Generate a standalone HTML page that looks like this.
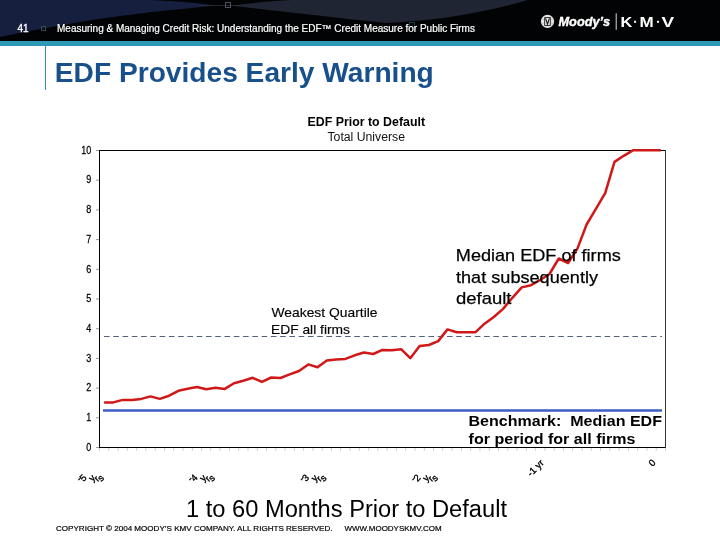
<!DOCTYPE html>
<html><head><meta charset="utf-8">
<style>
html,body{margin:0;padding:0;background:#fff;}
body{width:720px;height:540px;overflow:hidden;position:relative;font-family:"Liberation Sans",sans-serif;}
svg{position:absolute;left:0;top:0;display:block;will-change:transform;}
text{font-family:"Liberation Sans",sans-serif;}
</style></head>
<body>
<svg width="720" height="540" viewBox="0 0 720 540">
  <!-- header background -->
  <rect x="0" y="0" width="720" height="41" fill="#020305"/>
  <path d="M0,0 L150,0 C170,0.5 192,2.5 214,5.2 L214,5.8 C192,8 160,11 120,16 C80,21 40,29 0,37 Z" fill="#161f3e"/>
  <path d="M234,5.3 C248,3.5 268,1 292,0 L528,0 C480,14 430,21 385,23 C330,17 275,10.5 234,6 Z" fill="#1f2532"/>
  <line x1="200" y1="5.5" x2="240" y2="5.5" stroke="#2e3038" stroke-width="0.8"/>
  <rect x="225.5" y="2.5" width="5" height="5" fill="none" stroke="#4a5260" stroke-width="1"/>
  <rect x="409.5" y="22.5" width="5" height="5" fill="none" stroke="#1c3440" stroke-width="1"/>
  <rect x="41.5" y="26.5" width="4" height="4" fill="none" stroke="#3a4a50" stroke-width="1"/>
  <rect x="0" y="41" width="720" height="5" fill="#2f9ab8"/>
  <!-- header text -->
  <text x="17.5" y="31.5" fill="#fff" stroke="#fff" stroke-width="0.3" font-size="10">41</text>
  <text x="57" y="31.5" fill="#fff" stroke="#fff" stroke-width="0.2" font-size="10">Measuring &amp; Managing Credit Risk: Understanding the EDF™ Credit Measure for Public Firms</text>
  <!-- logo -->
  <circle cx="547.5" cy="21.4" r="6.6" fill="#e4e4e4"/>
  <line x1="542" y1="19.5" x2="553" y2="19.5" stroke="#c0c0c0" stroke-width="0.6"/>
  <line x1="542" y1="23.5" x2="553" y2="23.5" stroke="#c0c0c0" stroke-width="0.6"/>
  <rect x="544.7" y="17.6" width="5.6" height="7.8" fill="#f0f0f0" stroke="#1a1a1a" stroke-width="0.9"/>
  <path d="M545.6,18.4 L547.5,24.2 L549.4,18.4" fill="none" stroke="#111" stroke-width="1.1"/>
  <text x="558.5" y="26" fill="#fff" stroke="#fff" stroke-width="0.4" font-size="13" font-weight="bold" font-style="italic" textLength="51.5" lengthAdjust="spacingAndGlyphs">Moody’s</text>
  <rect x="615.7" y="13.3" width="1" height="16.5" fill="#d8d8d8"/>
  <g fill="#fff" font-size="14" font-weight="bold">
    <text x="620.6" y="26.9" textLength="11.8" lengthAdjust="spacingAndGlyphs">K</text>
    <text x="639.6" y="26.9" textLength="14.2" lengthAdjust="spacingAndGlyphs">M</text>
    <text x="661.6" y="26.9" textLength="12.6" lengthAdjust="spacingAndGlyphs">V</text>
  </g>
  <rect x="634.1" y="20.8" width="2" height="2" fill="#fff"/>
  <rect x="657" y="20.8" width="2" height="2" fill="#fff"/>

  <!-- title -->
  <rect x="45" y="46" width="1" height="44" fill="#2f8fb0"/>
  <text x="54.8" y="82" fill="#17508a" font-size="28.5" font-weight="bold" textLength="379" lengthAdjust="spacingAndGlyphs">EDF Provides Early Warning</text>

  <!-- chart title -->
  <text x="307.5" y="126" fill="#000" font-size="12.3" font-weight="bold" textLength="117.5" lengthAdjust="spacingAndGlyphs">EDF Prior to Default</text>
  <text x="327.5" y="140.5" fill="#111" font-size="12" textLength="77.5" lengthAdjust="spacingAndGlyphs">Total Universe</text>

  <!-- plot area -->
  <g stroke="#999" stroke-width="1"><line x1="96" y1="150.5" x2="99" y2="150.5"/><line x1="96" y1="180.2" x2="99" y2="180.2"/><line x1="96" y1="209.9" x2="99" y2="209.9"/><line x1="96" y1="239.6" x2="99" y2="239.6"/><line x1="96" y1="269.3" x2="99" y2="269.3"/><line x1="96" y1="299.0" x2="99" y2="299.0"/><line x1="96" y1="328.7" x2="99" y2="328.7"/><line x1="96" y1="358.4" x2="99" y2="358.4"/><line x1="96" y1="388.1" x2="99" y2="388.1"/><line x1="96" y1="417.8" x2="99" y2="417.8"/><line x1="96" y1="447.5" x2="99" y2="447.5"/></g>
  <g stroke="#d0d0d0" stroke-width="1"><line x1="99.5" y1="448" x2="99.5" y2="451"/><line x1="108.8" y1="448" x2="108.8" y2="451"/><line x1="118.1" y1="448" x2="118.1" y2="451"/><line x1="127.3" y1="448" x2="127.3" y2="451"/><line x1="136.6" y1="448" x2="136.6" y2="451"/><line x1="145.9" y1="448" x2="145.9" y2="451"/><line x1="155.2" y1="448" x2="155.2" y2="451"/><line x1="164.5" y1="448" x2="164.5" y2="451"/><line x1="173.7" y1="448" x2="173.7" y2="451"/><line x1="183.0" y1="448" x2="183.0" y2="451"/><line x1="192.3" y1="448" x2="192.3" y2="451"/><line x1="201.6" y1="448" x2="201.6" y2="451"/><line x1="210.8" y1="448" x2="210.8" y2="451"/><line x1="220.1" y1="448" x2="220.1" y2="451"/><line x1="229.4" y1="448" x2="229.4" y2="451"/><line x1="238.7" y1="448" x2="238.7" y2="451"/><line x1="248.0" y1="448" x2="248.0" y2="451"/><line x1="257.2" y1="448" x2="257.2" y2="451"/><line x1="266.5" y1="448" x2="266.5" y2="451"/><line x1="275.8" y1="448" x2="275.8" y2="451"/><line x1="285.1" y1="448" x2="285.1" y2="451"/><line x1="294.4" y1="448" x2="294.4" y2="451"/><line x1="303.6" y1="448" x2="303.6" y2="451"/><line x1="312.9" y1="448" x2="312.9" y2="451"/><line x1="322.2" y1="448" x2="322.2" y2="451"/><line x1="331.5" y1="448" x2="331.5" y2="451"/><line x1="340.7" y1="448" x2="340.7" y2="451"/><line x1="350.0" y1="448" x2="350.0" y2="451"/><line x1="359.3" y1="448" x2="359.3" y2="451"/><line x1="368.6" y1="448" x2="368.6" y2="451"/><line x1="377.9" y1="448" x2="377.9" y2="451"/><line x1="387.1" y1="448" x2="387.1" y2="451"/><line x1="396.4" y1="448" x2="396.4" y2="451"/><line x1="405.7" y1="448" x2="405.7" y2="451"/><line x1="415.0" y1="448" x2="415.0" y2="451"/><line x1="424.3" y1="448" x2="424.3" y2="451"/><line x1="433.5" y1="448" x2="433.5" y2="451"/><line x1="442.8" y1="448" x2="442.8" y2="451"/><line x1="452.1" y1="448" x2="452.1" y2="451"/><line x1="461.4" y1="448" x2="461.4" y2="451"/><line x1="470.6" y1="448" x2="470.6" y2="451"/><line x1="479.9" y1="448" x2="479.9" y2="451"/><line x1="489.2" y1="448" x2="489.2" y2="451"/><line x1="498.5" y1="448" x2="498.5" y2="451"/><line x1="507.8" y1="448" x2="507.8" y2="451"/><line x1="517.0" y1="448" x2="517.0" y2="451"/><line x1="526.3" y1="448" x2="526.3" y2="451"/><line x1="535.6" y1="448" x2="535.6" y2="451"/><line x1="544.9" y1="448" x2="544.9" y2="451"/><line x1="554.2" y1="448" x2="554.2" y2="451"/><line x1="563.4" y1="448" x2="563.4" y2="451"/><line x1="572.7" y1="448" x2="572.7" y2="451"/><line x1="582.0" y1="448" x2="582.0" y2="451"/><line x1="591.3" y1="448" x2="591.3" y2="451"/><line x1="600.5" y1="448" x2="600.5" y2="451"/><line x1="609.8" y1="448" x2="609.8" y2="451"/><line x1="619.1" y1="448" x2="619.1" y2="451"/><line x1="628.4" y1="448" x2="628.4" y2="451"/><line x1="637.7" y1="448" x2="637.7" y2="451"/><line x1="646.9" y1="448" x2="646.9" y2="451"/><line x1="656.2" y1="448" x2="656.2" y2="451"/><line x1="665.5" y1="448" x2="665.5" y2="451"/></g>
  <rect x="99.5" y="150.5" width="566" height="297" fill="none" stroke="#000" stroke-width="1"/>
  <line x1="665.5" y1="150" x2="665.5" y2="448" stroke="#333" stroke-width="1"/>

  <!-- dashed weakest quartile -->
  <line x1="104" y1="336.5" x2="662" y2="336.5" stroke="#54607e" stroke-width="1.1" stroke-dasharray="5.6,3.67"/>
  <!-- benchmark -->
  <line x1="103" y1="410.5" x2="662" y2="410.5" stroke="#3b5ec4" stroke-width="2.7"/>
  <!-- red -->
  <polyline fill="none" stroke="#d01818" stroke-width="2.5" stroke-linejoin="round" points="104.1,402.4 113.4,402.4 122.7,399.9 132.0,399.9 141.3,398.9 150.5,396.4 159.8,398.9 169.1,395.7 178.4,390.8 187.6,388.8 196.9,387.0 206.2,389.2 215.5,387.8 224.8,388.9 234.0,383.3 243.3,380.8 252.6,377.8 261.9,381.9 271.2,377.5 280.4,378.0 289.7,374.4 299.0,371.0 308.3,364.4 317.5,367.2 326.8,360.6 336.1,359.4 345.4,358.9 354.7,355.3 363.9,352.5 373.2,354.0 382.5,349.9 391.8,350.3 401.1,349.2 410.3,358.2 419.6,346.1 428.9,345.0 438.2,341.1 447.5,329.4 456.7,332.2 466.0,332.3 475.3,332.3 484.6,323.7 493.8,317.0 503.1,308.9 512.4,297.8 521.7,287.4 531.0,285.2 540.2,280.0 549.5,274.0 558.8,258.5 568.1,263.0 577.4,248.6 586.6,224.5 595.9,208.9 605.2,193.2 614.5,161.9 623.7,155.8 633.0,150.3 642.3,150.3 651.6,150.3 660.9,150.3"/>

  <!-- y labels -->
  <g fill="#000" stroke="#000" stroke-width="0.25" font-size="10.5" text-anchor="end" transform="translate(91.2,0) scale(0.86,1) translate(-91.2,0)">
    <text x="91.2" y="153.8">10</text>
    <text x="91.2" y="183.5">9</text>
    <text x="91.2" y="213.2">8</text>
    <text x="91.2" y="242.9">7</text>
    <text x="91.2" y="272.6">6</text>
    <text x="91.2" y="302.3">5</text>
    <text x="91.2" y="332.0">4</text>
    <text x="91.2" y="361.7">3</text>
    <text x="91.2" y="391.4">2</text>
    <text x="91.2" y="421.1">1</text>
    <text x="91.2" y="450.8">0</text>
  </g>

  <!-- annotations -->
  <g fill="#000" font-size="13" stroke="#000" stroke-width="0.15">
    <text x="271.5" y="316.5" textLength="106" lengthAdjust="spacingAndGlyphs">Weakest Quartile</text>
    <text x="271" y="333.5" textLength="79" lengthAdjust="spacingAndGlyphs">EDF all firms</text>
  </g>
  <g fill="#000" font-size="17" stroke="#000" stroke-width="0.25">
    <text x="455.8" y="260.5" textLength="165" lengthAdjust="spacingAndGlyphs">Median EDF of firms</text>
    <text x="456" y="282.5" textLength="142" lengthAdjust="spacingAndGlyphs">that subsequently</text>
    <text x="456" y="303.5" textLength="55.5" lengthAdjust="spacingAndGlyphs">default</text>
  </g>
  <g fill="#000" font-size="15" font-weight="bold">
    <text x="468.5" y="426" textLength="193.5" lengthAdjust="spacingAndGlyphs" xml:space="preserve">Benchmark:  Median EDF</text>
    <text x="468.6" y="444.2" textLength="166.8" lengthAdjust="spacingAndGlyphs">for period for all firms</text>
  </g>

  <!-- x labels -->
  <g fill="#000" font-size="9.5" stroke="#000" stroke-width="0.35">
    <text x="80" y="482" rotate="-45" textLength="26" lengthAdjust="spacing">-5 yrs</text>
    <text x="191" y="482" rotate="-45" textLength="26" lengthAdjust="spacing">-4 yrs</text>
    <text x="302.5" y="482" rotate="-45" textLength="26" lengthAdjust="spacing">-3 yrs</text>
    <text x="414" y="482" rotate="-45" textLength="26" lengthAdjust="spacing">-2 yrs</text>
    <text transform="translate(531,477) rotate(-45)">-1 yr</text>
    <text transform="translate(652.5,467) rotate(-45)">0</text>
  </g>

  <text x="186" y="516.7" fill="#000" font-size="23" textLength="321" lengthAdjust="spacingAndGlyphs">1 to 60 Months Prior to Default</text>
  <text x="56" y="531" fill="#000" stroke="#000" stroke-width="0.2" font-size="8" textLength="276.5" lengthAdjust="spacingAndGlyphs">COPYRIGHT © 2004 MOODY’S KMV COMPANY. ALL RIGHTS RESERVED.</text>
  <text x="344.4" y="531" fill="#000" stroke="#000" stroke-width="0.2" font-size="8" textLength="97.3" lengthAdjust="spacingAndGlyphs">WWW.MOODYSKMV.COM</text>
</svg>
</body></html>
